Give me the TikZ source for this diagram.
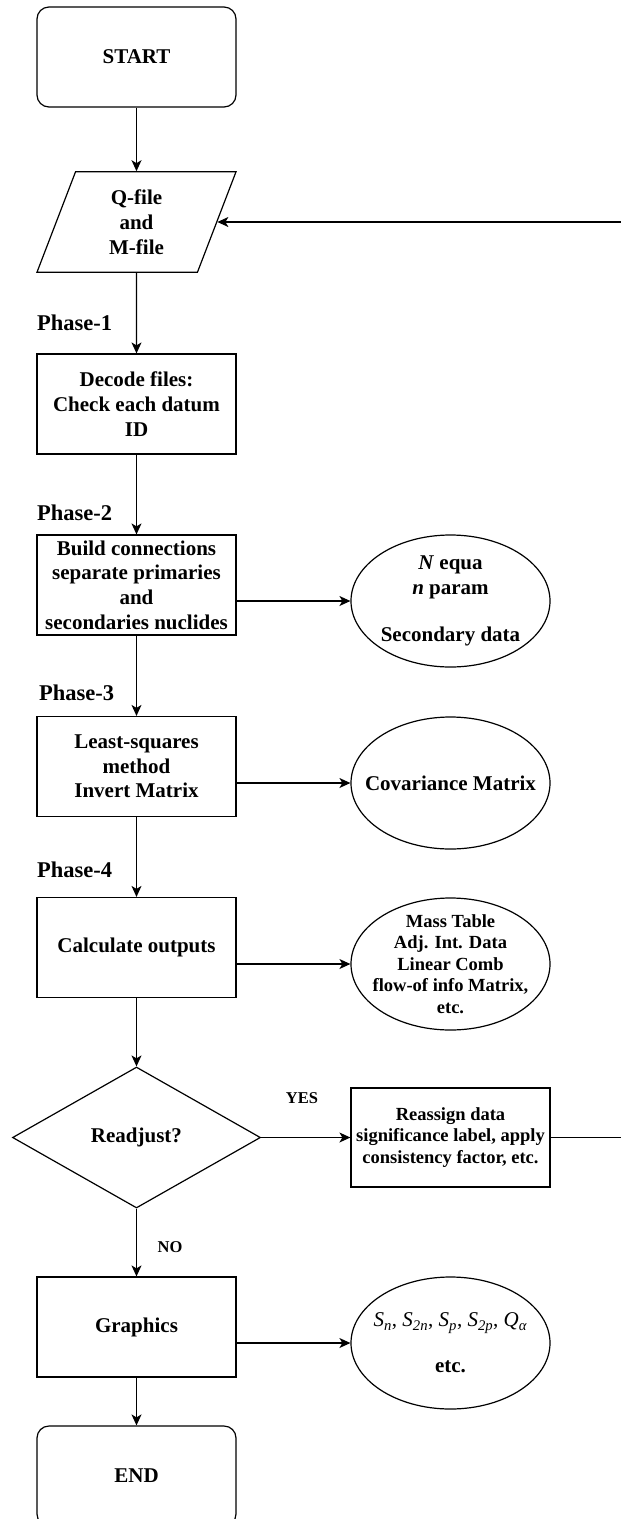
\documentclass[tikz,border=0pt]{standalone}
\usepackage{fontspec}
\setmainfont{Liberation Serif}
\usetikzlibrary{shapes.geometric,arrows.meta}
\newcommand\symsub[2]{\textit{#1}\textsubscript{\textit{#2}}}
\begin{document}
\begin{tikzpicture}[x=1pt,y=-1pt,
	box/.style={draw,line width=1.2pt,minimum width=199pt,minimum height=100pt,inner sep=1pt,align=center,font=\fontsize{21}{24.7}\selectfont\bfseries},
	term/.style={box,rounded corners=12pt},
	iobox/.style={box,trapezium,trapezium left angle=69,trapezium right angle=111,trapezium stretches body,inner ysep=18pt},
	cond/.style={box,diamond,minimum width=248pt,minimum height=141pt,inner sep=0pt},
	outbox/.style={box,ellipse,minimum height=132pt,inner xsep=-25pt,inner ysep=-20pt},
	small/.style={font=\fontsize{18.5}{21.5}\selectfont\bfseries},
	phase/.style={anchor=west,inner sep=0pt,font=\fontsize{22.5}{27}\selectfont\bfseries},
	lbl/.style={inner sep=0pt,font=\fontsize{16.5}{20}\selectfont\bfseries},
	arr/.style={line width=1.2pt,-{Stealth[length=11pt,width=10pt,inset=3pt]}}]
		\useasboundingbox (0,0) rectangle (621,1519);
		% Start
		\node[term] (start) at (136.5,57) {START};
		% Inndata
		\node[iobox] (qfile) at (136.5,222) {Q-file\\and\\M-file};
		% Fase 1
		\node[phase] (ph1) at (37,323) {Phase-1};
		\node[box] (decode) at (136.5,404) {Decode files:\\Check each datum\\ID};
		% Fase 2
		\node[phase] (ph2) at (37,513) {Phase-2};
		\node[box] (build) at (136.5,585) {Build connections\\separate primaries\\and\\secondaries nuclides};
		\node[outbox] (neq) at (450.5,601) {\textit{N} equa\\\textit{n} param\\[23pt]Secondary data};
		% Fase 3
		\node[phase] (ph3) at (39,693) {Phase-3};
		\node[box] (least) at (136.5,766.5) {Least-squares\\method\\Invert Matrix};
		\node[outbox] (cov) at (450.5,783) {Covariance Matrix};
		% Fase 4
		\node[phase] (ph4) at (37,870) {Phase-4};
		\node[box] (calc) at (136.5,947.5) {Calculate outputs};
		\node[outbox,small] (mass) at (450.5,964) {Mass Table\\Adj. Int. Data\\Linear Comb\\flow-of info Matrix,\\etc.};
		% Valg
		\node[cond] (readj) at (136.5,1137.5) {Readjust?};
		\node[box,small,minimum height=99pt] (reassign) at (450.5,1137.5) {Reassign data\\significance label, apply\\consistency factor, etc.};
		\node[lbl] (yes) at (302,1098) {YES};
		\node[lbl] (no) at (170,1247) {NO};
		% Grafikk
		\node[box] (graph) at (136.5,1327) {Graphics};
		\node[outbox] (sn) at (450.5,1343) {\mdseries\symsub{S}{n}, \symsub{S}{2n}, \symsub{S}{p}, \symsub{S}{2p}, \symsub{Q}{α}\\[21pt]etc.};
		% Slutt
		\node[term] (endn) at (136.5,1476) {END};
		% Piler
		\draw[arr] (start) -- (qfile);
		\draw[arr] (qfile) -- (decode);
		\draw[arr] (decode) -- (build);
		\draw[arr] (build) -- (least);
		\draw[arr] (least) -- (calc);
		\draw[arr] (calc) -- (readj);
		\draw[arr] (readj) -- (graph);
		\draw[arr] (graph) -- (endn);
		\draw[arr] (build.east |- neq) -- (neq);
		\draw[arr] (least.east |- cov) -- (cov);
		\draw[arr] (calc.east |- mass) -- (mass);
		\draw[arr] (graph.east |- sn) -- (sn);
		\draw[arr] (readj) -- (reassign);
		% Tilbake til inndata
		\coordinate (rim) at (640,0);
		\draw[arr] (reassign.east) -- (reassign.east -| rim) |- (qfile.east);
	\end{tikzpicture}
\end{document}
